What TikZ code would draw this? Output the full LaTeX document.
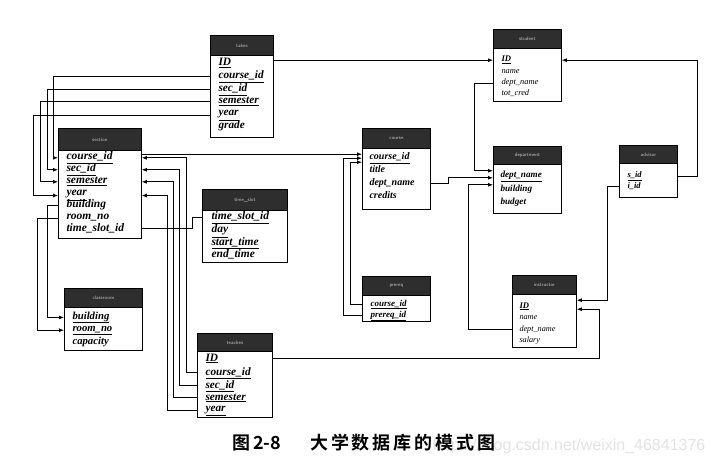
\documentclass[tikz,border=0pt]{standalone}
\usepackage{fontspec}
\usetikzlibrary{arrows.meta,calc}
\setmainfont{Liberation Serif}
\newfontfamily\cjk{Noto Sans CJK SC}[BoldFont={Noto Sans CJK SC Bold}]
\newfontfamily\wmfont{Liberation Sans}
\newcommand\uk[1]{\underline{#1}}
\newcommand\dbtable[7]{%
  \node[hdr, minimum width=#4pt, minimum height=#6pt] (#1-h) at (#3,#5) {#2};
  \node[tbody, minimum width=#4pt, minimum height=#7pt] (#1) at ($(#3,#5)+(0,#6)$) {};
}
\tikzset{
  hdr/.style={draw, fill=black!82, text=gray!45, font=\fontsize{5}{5}\selectfont\sffamily,
    inner sep=0pt, anchor=north west, line width=0.8pt},
  tbody/.style={draw, fill=white, inner sep=0pt, anchor=north west, line width=0.8pt},
  fld/.style={anchor=base west, inner sep=0.3pt, font=\fontsize{#1}{#1}\selectfont\bfseries\itshape},
  fldl/.style={anchor=base west, inner sep=0.3pt, font=\fontsize{#1}{#1}\selectfont\itshape},
  fk/.style={line width=0.8pt, -{Latex[length=5pt,width=4pt]}},
  ln/.style={line width=0.8pt},
}
\begin{document}
\begin{tikzpicture}[x=1pt,y=-1pt]
\useasboundingbox[fill=white] (0,0) rectangle (714,470);

% ---------- tables ----------
\dbtable{takes}{takes}{210}{63}{35}{20}{82}
\node[fld=11.3] (takes-ID)  at (218,66)  {\uk{ID}};
\node[fld=11.3] (takes-cid) at (218,79)  {\uk{course\_id}};
\node[fld=11.3] (takes-sid) at (218,92)  {\uk{sec\_id}};
\node[fld=11.3] (takes-sem) at (218,104) {\uk{semester}};
\node[fld=11.3] (takes-yr)  at (218,116) {\uk{year}};
\node[fld=11.3] (takes-gr)  at (218,129) {grade};

\dbtable{section}{section}{58}{83}{128}{22}{88}
\node[fld=11.5] (section-cid)  at (66,160) {\uk{course\_id}};
\node[fld=11.5] (section-sid)  at (66,172) {\uk{sec\_id}};
\node[fld=11.5] (section-sem)  at (66,184) {\uk{semester}};
\node[fld=11.5] (section-yr)   at (66,196) {\uk{year}};
\node[fld=11.5] (section-bld)  at (66,208) {building};
\node[fld=11.5] (section-room) at (66,220) {room\_no};
\node[fld=11.5] (section-tsid) at (66,232) {time\_slot\_id};

\dbtable{timeslot}{time\_slot}{202}{85}{189}{21}{52}
\node[fld=11.5] (ts-tsid) at (211,220) {\uk{time\_slot\_id}};
\node[fld=11.5] (ts-day)  at (211,233) {\uk{day}};
\node[fld=11.5] (ts-st)   at (211,245) {\uk{start\_time}};
\node[fld=11.5] (ts-et)   at (211,258) {end\_time};

\dbtable{classroom}{classroom}{64}{78}{288}{19}{43}
\node[fld=10.7] (cr-bld)  at (72,319) {\uk{building}};
\node[fld=10.7] (cr-room) at (72,331) {\uk{room\_no}};
\node[fld=10.7] (cr-cap)  at (72,344) {capacity};

\dbtable{teaches}{teaches}{197}{75}{333}{18}{66}
\node[fld=11.3] (teaches-ID)  at (205,361) {\uk{ID}};
\node[fld=11.3] (teaches-cid) at (205,375) {\uk{course\_id}};
\node[fld=11.3] (teaches-sid) at (205,388) {\uk{sec\_id}};
\node[fld=11.3] (teaches-sem) at (205,400) {\uk{semester}};
\node[fld=11.3] (teaches-yr)  at (205,411) {\uk{year}};

\dbtable{course}{course}{362}{68}{128}{20}{61}
\node[fld=10] (course-cid) at (369,160) {\uk{course\_id}};
\node[fld=10] (course-ti)  at (369,173) {title};
\node[fld=10] (course-dn)  at (369,186) {dept\_name};
\node[fld=10] (course-cr)  at (369,199) {credits};

\dbtable{prereq}{prereq}{362}{68}{276}{19}{26}
\node[fld=9] (prereq-cid) at (370,306) {\uk{course\_id}};
\node[fld=9] (prereq-pid) at (370,317) {\uk{prereq\_id}};

\dbtable{student}{student}{493}{68}{29}{19}{53}
\node[fld=8.6]  (student-ID) at (501,62)   {\uk{ID}};
\node[fldl=8.4] (student-nm) at (501,73.5) {name};
\node[fldl=8.4] (student-dn) at (501,85)   {dept\_name};
\node[fldl=8.4] (student-tc) at (501,96)   {tot\_cred};

\dbtable{department}{department}{493}{68}{146}{18}{49}
\node[fld=9.2] (dept-dn)  at (500,178) {\uk{dept\_name}};
\node[fld=9.2] (dept-bld) at (500,192) {building};
\node[fld=9.2] (dept-bud) at (500,205) {budget};

\dbtable{advisor}{advisor}{619}{58}{145}{18}{34}
\node[fld=8.5] (adv-sid) at (627,178) {\uk{s\_id}};
\node[fld=8.5] (adv-iid) at (627,189) {i\_id};

\dbtable{instructor}{instructor}{512}{64}{275}{19}{53}
\node[fld=8.6]  (inst-ID) at (519,308)   {\uk{ID}};
\node[fldl=8.2] (inst-nm) at (519,319.5) {name};
\node[fldl=8.2] (inst-dn) at (519,331)   {dept\_name};
\node[fldl=8.2] (inst-sa) at (519,342)   {salary};

% ---------- connectors ----------
% takes -> student
\draw[fk] (takes.east |- student-ID) -- (student.west |- student-ID);
% takes -> section
\draw[fk] (takes.west |- takes-cid) -| ($(section.west |- section-cid)+(-5,0)$) -- (section.west |- section-cid);
\draw[fk] (takes.west |- takes-sid) -| ($(section.west |- section-sid)+(-11,0)$) -- (section.west |- section-sid);
\draw[fk] (takes.west |- takes-sem) -| ($(section.west |- section-sem)+(-18,0)$) -- (section.west |- section-sem);
\draw[fk] (takes.west |- takes-yr) -| ($(section.west |- section-yr)+(-25,0)$) -- (section.west |- section-yr);
% section -> course, prereq -> course
\coordinate (cc1) at ($(course.west |- course-cid)+(0,-4)$);
\coordinate (cc2) at ($(course.west |- course-cid)+(0,0)$);
\coordinate (cc3) at ($(course.west |- course-cid)+(0,4)$);
\draw[fk] (section.east |- cc1) -- (cc1);
\draw[fk] (prereq.west |- prereq-pid) -| ($(cc2)+(-19,0)$) -- (cc2);
\draw[fk] (prereq.west |- prereq-cid) -| ($(cc3)+(-12,0)$) -- (cc3);
% teaches -> section
\draw[fk] (teaches.west |- teaches-cid) -| ($(section.east |- section-cid)+(45,0)$) -- (section.east |- section-cid);
\draw[fk] (teaches.west |- teaches-sid) -| ($(section.east |- section-sid)+(38,0)$) -- (section.east |- section-sid);
\draw[fk] (teaches.west |- teaches-sem) -| ($(section.east |- section-sem)+(32,0)$) -- (section.east |- section-sem);
\draw[fk] (teaches.west |- teaches-yr) -| ($(section.east |- section-yr)+(26,0)$) -- (section.east |- section-yr);
% section -> time_slot
\draw[ln] (section.east |- section-tsid) -| ($(timeslot.west |- ts-tsid)+(-10,0)$) -- (timeslot.west |- ts-tsid);
% section -> classroom
\draw[fk] (section.west |- section-bld) -| ($(classroom.west |- cr-bld)+(-17,0)$) -- (classroom.west |- cr-bld);
\draw[fk] (section.west |- section-room) -| ($(classroom.west |- cr-room)+(-27,0)$) -- (classroom.west |- cr-room);
% -> department
\coordinate (dd1) at ($(department.west |- dept-dn)+(0,-6)$);
\coordinate (dd2) at ($(department.west |- dept-dn)+(0,1)$);
\coordinate (dd3) at ($(department.west |- dept-dn)+(0,8)$);
\draw[fk] (student.west |- student-dn) -| ($(dd1)+(-19,0)$) -- (dd1);
\draw[fk] (course.east |- course-dn) -| ($(dd2)+(-45,0)$) -- (dd2);
\draw[fk] (instructor.west |- inst-dn) -| ($(dd3)+(-25,0)$) -- (dd3);
% advisor -> student
\draw[fk] (advisor.east |- adv-sid) -| ($(student.east |- student-ID)+(136,0)$) -- (student.east |- student-ID);
% advisor, teaches -> instructor
\coordinate (ii1) at ($(instructor.east |- inst-ID)+(0,-6)$);
\coordinate (ii2) at ($(instructor.east |- inst-ID)+(0,3)$);
\draw[fk] (advisor.west |- adv-iid) -| ($(ii1)+(31,0)$) -- (ii1);
\draw[fk] (teaches.east |- teaches-ID) -| ($(ii2)+(23,0)$) -- (ii2);

% ---------- caption ----------
\node[font=\wmfont\fontsize{16}{16}\selectfont, text=gray!22, anchor=base west, inner sep=0pt] (wm) at (433,450) {https://blog.csdn.net/weixin\_46841376};
\node[font=\cjk\bfseries\fontsize{18}{18}\selectfont, anchor=west, inner sep=0pt] (cap1) at (232,443) {图\hspace{3pt}2-8};
\node[font=\cjk\bfseries\fontsize{18}{18}\selectfont\addfontfeature{LetterSpace=16}, anchor=west, inner sep=0pt] (cap2) at (310,443) {大学数据库的模式图};
\end{tikzpicture}
\end{document}
